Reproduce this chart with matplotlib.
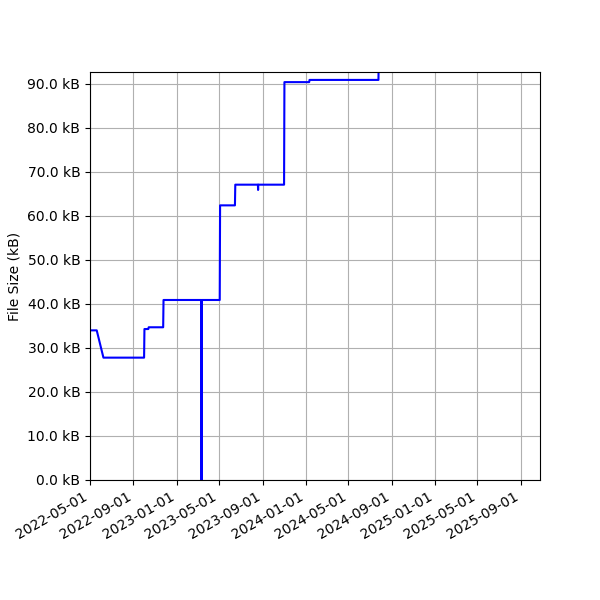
import pandas as pd
import matplotlib
matplotlib.use('Agg')
import matplotlib.pyplot as plt
import matplotlib.dates as mdates
from matplotlib.ticker import FuncFormatter, MultipleLocator

# file size history (kB)
dates = [
    '2022-05-01', '2022-05-20', '2022-06-08', '2022-10-01', '2022-10-02',
    '2022-10-13', '2022-10-14', '2022-11-24', '2022-11-25', '2023-03-12 00:00',
    '2023-03-12 12:00', '2023-03-13 00:00', '2023-05-03', '2023-05-04',
    '2023-06-15', '2023-06-16', '2023-08-19 00:00', '2023-08-19 12:00',
    '2023-08-20 00:00', '2023-11-01', '2023-11-02', '2024-01-11', '2024-01-12',
    '2024-07-25', '2024-07-26',
]
sizes = [
    34.0, 34.0, 27.8, 27.8, 34.3,
    34.3, 34.7, 34.7, 40.9, 40.9,
    0.0, 40.9, 40.9, 62.4,
    62.4, 67.1, 67.1, 65.9,
    67.1, 67.1, 90.4, 90.4, 90.9,
    90.9, 98.0,
]

t = pd.to_datetime(dates, format='mixed')

fig, ax = plt.subplots(figsize=(6, 6), dpi=100)
fig.subplots_adjust(left=0.15)
ax.plot(t, sizes, c='b', linewidth=1.5)
ax.set_ylabel('File Size (kB)')
ax.yaxis.set_major_locator(MultipleLocator(10))
ax.yaxis.set_major_formatter(FuncFormatter(lambda v, p: '{:.1f} kB'.format(v)))
ax.set_ylim(0, 92.7)
ax.set_xlim(pd.Timestamp('2022-05-01'), pd.Timestamp('2025-10-25'))
ax.xaxis.set_major_locator(mdates.MonthLocator(bymonth=[1, 5, 9]))
ax.xaxis.set_major_formatter(mdates.DateFormatter('%Y-%m-%d'))
ax.grid()
fig.autofmt_xdate()

plt.savefig('out.png')
